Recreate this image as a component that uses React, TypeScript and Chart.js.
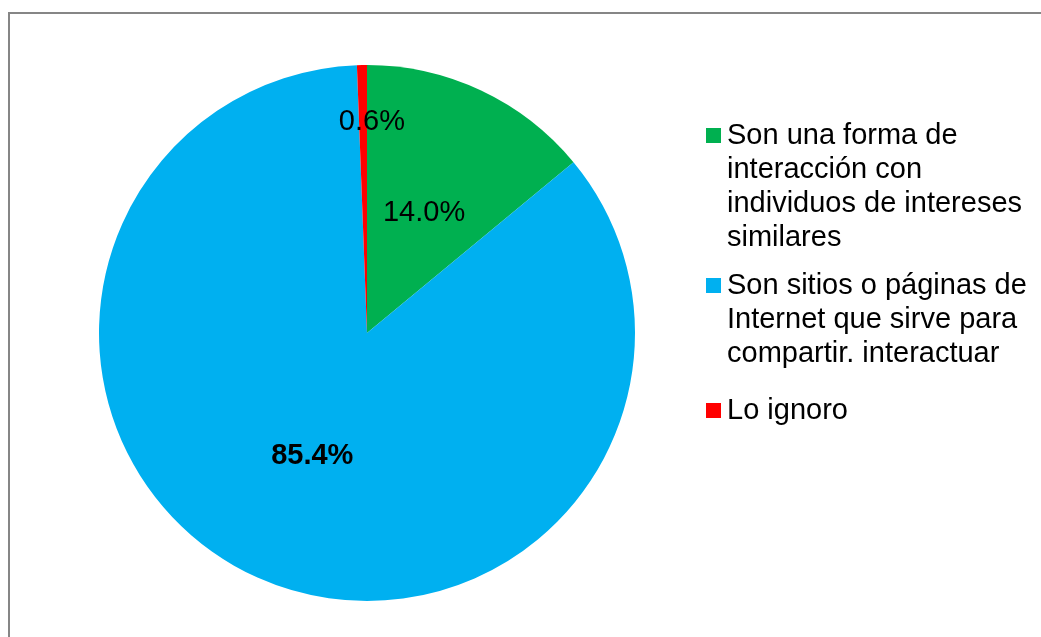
import React, { useEffect, useRef } from "react";
import { Chart, registerables } from "chart.js";

Chart.register(...registerables);

const categories: string[][] = [
  ["Son una forma de", "interacción con", "individuos de intereses", "similares"],
  ["Son sitios o páginas de", "Internet que sirve para", "compartir. interactuar"],
  ["Lo ignoro"],
];
const values: number[] = [14.0, 85.4, 0.6];
const valueLabels: string[] = ["14.0%", "85.4%", "0.6%"];
const colors: string[] = ["#00B050", "#00B0F0", "#FF0000"];
const labelBold: boolean[] = [false, true, false];
const labelRadiusFrac: number[] = [0.5, 0.5, 0.79];
const labelAngleOffsetDeg: number[] = [0, 0, 2.4];
const legendGapAfter: number[] = [14, 23, 0];

const FONT = "'Liberation Sans', Arial, sans-serif";

const labelPlugin = {
  id: "sliceLabels",
  afterDatasetsDraw(chart: any) {
    const ctx = chart.ctx;
    const meta = chart.getDatasetMeta(0);
    ctx.save();
    ctx.fillStyle = "#000";
    ctx.textAlign = "center";
    ctx.textBaseline = "middle";
    meta.data.forEach((arc: any, i: number) => {
      const p = arc.getProps(["x", "y", "startAngle", "endAngle", "outerRadius"], true);
      const mid = (p.startAngle + p.endAngle) / 2 + (labelAngleOffsetDeg[i] * Math.PI) / 180;
      const r = p.outerRadius * labelRadiusFrac[i];
      ctx.font = `${labelBold[i] ? "bold " : ""}29px ${FONT}`;
      ctx.fillText(valueLabels[i], p.x + Math.cos(mid) * r, p.y + Math.sin(mid) * r + 1);
    });
    ctx.restore();
  },
};

export default function App() {
  const ref = useRef<HTMLCanvasElement | null>(null);
  useEffect(() => {
    if (!ref.current) return;
    const chart = new Chart(ref.current, {
      type: "pie",
      data: {
        labels: categories.map((c) => c.join(" ")),
        datasets: [
          {
            data: values,
            backgroundColor: colors,
            borderWidth: 0,
          },
        ],
      },
      options: {
        animation: false,
        responsive: false,
        layout: { padding: { top: 65, bottom: 36, left: 99, right: 406 } },
        plugins: {
          legend: { display: false },
          tooltip: { enabled: false },
        },
      },
      plugins: [labelPlugin],
    });
    return () => chart.destroy();
  }, []);

  return (
    <div
      style={{
        position: "fixed",
        left: 0,
        top: 0,
        width: 1041,
        height: 637,
        background: "#fff",
        overflow: "hidden",
      }}
    >
      <canvas ref={ref} width={1041} height={637} style={{ position: "absolute", left: 0, top: 0 }} />
      <div
        style={{
          position: "absolute",
          left: 8,
          top: 12,
          right: 0,
          bottom: 0,
          borderTop: "2px solid #868686",
          borderLeft: "2px solid #868686",
          pointerEvents: "none",
        }}
      />
      <div
        style={{
          position: "absolute",
          left: 706,
          top: 117,
          fontFamily: FONT,
          fontSize: 29,
          lineHeight: "34px",
          color: "#000",
        }}
      >
        {categories.map((lines, i) => (
          <div key={i} style={{ position: "relative", paddingLeft: 21, marginBottom: legendGapAfter[i] }}>
            <span
              style={{
                position: "absolute",
                left: 0,
                top: 11,
                width: 15,
                height: 15,
                background: colors[i],
              }}
            />
            {lines.map((l, j) => (
              <div key={j} style={{ whiteSpace: "nowrap" }}>
                {l}
              </div>
            ))}
          </div>
        ))}
      </div>
    </div>
  );
}
